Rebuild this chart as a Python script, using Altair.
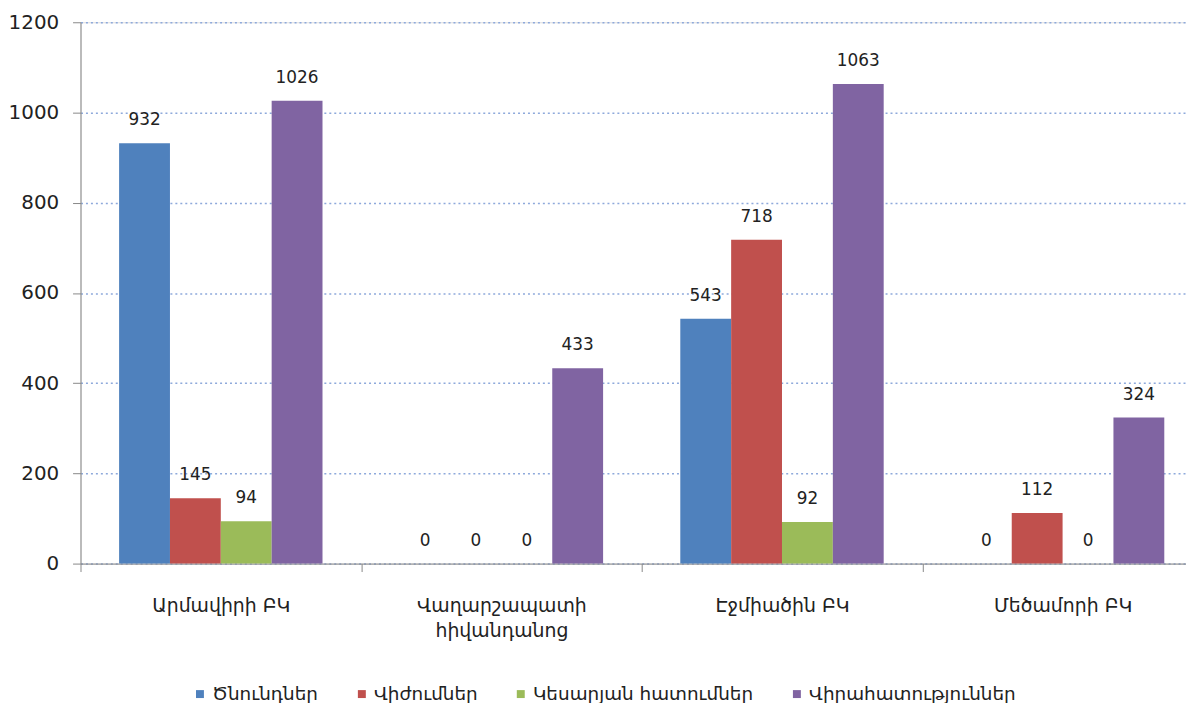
import altair as alt
import pandas as pd

categories = ["Արմավիրի ԲԿ", "Վաղարշապատի\nհիվանդանոց", "Էջմիածին  ԲԿ", "Մեծամորի ԲԿ"]
series = ["Ծնունդներ", "Վիժումներ", "Կեսարյան հատումներ", "Վիրահատություններ"]
births = [932, 0, 543, 0]
abortions = [145, 0, 718, 112]
cesarean = [94, 0, 92, 0]
surgeries = [1026, 433, 1063, 324]
colors = ["#4F81BD", "#C0504D", "#9BBB59", "#8064A2"]

rows = []
for s, vals in zip(series, [births, abortions, cesarean, surgeries]):
    for c, v in zip(categories, vals):
        rows.append({"cat": c, "series": s, "value": v})
df = pd.DataFrame(rows)

FONT = "DejaVu Sans"

x = alt.X("cat:N", sort=categories, title=None,
          scale=alt.Scale(paddingInner=0, paddingOuter=0),
          axis=alt.Axis(labelExpr="split(datum.label, '\\n')", labelAngle=0,
                        labelFontSize=19, labelFont=FONT, labelColor="#222",
                        labelPadding=25, labelLineHeight=25, labelLimit=0,
                        tickBand="extent", tickSize=8, tickColor="#888",
                        domainColor="#888", grid=False))
xo = alt.XOffset("series:N", sort=series, scale=alt.Scale(paddingInner=0, paddingOuter=0.759))
y = alt.Y("value:Q", title=None,
          scale=alt.Scale(domain=[0, 1200]),
          axis=alt.Axis(values=[0, 200, 400, 600, 800, 1000, 1200], format="d",
                        labelFontSize=20, labelFont=FONT, labelColor="#222",
                        labelPadding=14, tickSize=8, tickColor="#888",
                        domainColor="#888",
                        grid=True, gridColor="#8EA9DB", gridDash=[2, 3],
                        gridWidth=1.5))

color = alt.Color("series:N", sort=series, title=None,
                  scale=alt.Scale(domain=series, range=colors),
                  legend=alt.Legend(orient="none", legendX=111, legendY=667,
                                    direction="horizontal", symbolType="square",
                                    symbolSize=64, symbolStrokeWidth=0,
                                    labelFontSize=18.5, labelFont=FONT, labelLimit=0,
                                    labelColor="#222", columnPadding=34,
                                    labelOffset=3))

base = alt.Chart(df)
bars = base.mark_bar().encode(x=x, xOffset=xo, y=y, color=color)
labels = base.mark_text(dy=-14, fontSize=17, font=FONT, color="#222", baseline="bottom").encode(
    x=x, xOffset=xo, y=y, text="value:Q")

chart = (bars + labels).properties(
    width=1130, height=545,
    autosize=alt.AutoSizeParams(type="none"),
    padding={"left": 73, "top": 12, "right": -17, "bottom": 138},
).configure_view(stroke=None).configure(background="white")
chart.save("out.html", embed_options={"renderer": "svg", "actions": False})
